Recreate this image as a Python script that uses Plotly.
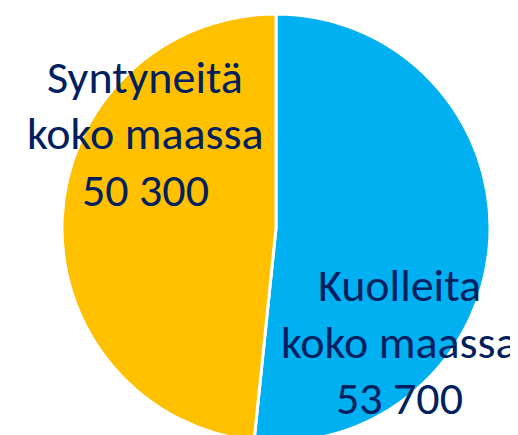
import plotly.graph_objects as go

labels = ["Kuolleita", "Syntyneitä"]
values = [53700, 50300]
value_texts = ["53 700", "50 300"]
colors = ["#00B0F0", "#FFC000"]

W, H = 518, 435
cx, cy, r = 268, 220, 214

fig = go.Figure(go.Pie(
    labels=labels, values=values, sort=False, direction="clockwise", rotation=0,
    marker=dict(colors=colors, line=dict(color="white", width=3)),
    textinfo="none", hoverinfo="label+value", showlegend=False,
    domain=dict(x=[(cx - r) / W, (cx + r) / W], y=[(H - cy - r) / H, (H - cy + r) / H]),
))

font = dict(family="Carlito, Calibri, Liberation Sans Narrow, sans-serif", size=46, color="#002060")
# label block: centre x, first baseline y (pixels)
pos = {"Syntyneitä": (137, 85), "Kuolleita": (391, 293)}
line_gap = 56.5
for lab, vt in zip(labels, value_texts):
    px, by = pos[lab]
    for i, line in enumerate([lab, "koko maassa", vt]):
        yc = by + i * line_gap - 16
        fig.add_annotation(
            text=line, x=px / W, y=1 - yc / H,
            xref="paper", yref="paper", xanchor="center", yanchor="middle",
            showarrow=False, font=font, align="center",
        )

fig.update_layout(width=W, height=H, margin=dict(l=0, r=0, t=0, b=0),
                  paper_bgcolor="white", plot_bgcolor="white")
fig.write_html("out.html")
